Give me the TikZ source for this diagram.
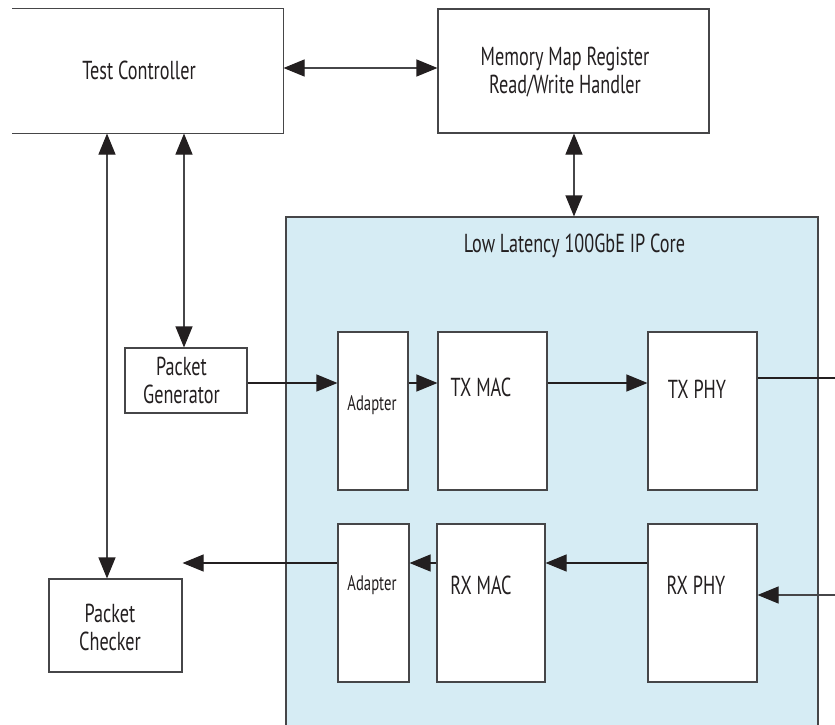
\documentclass[tikz,border=0pt]{standalone}
\usepackage{fontspec}
\setmainfont{PT Sans}[FakeStretch=0.70]
\usetikzlibrary{arrows.meta}
\definecolor{coreblue}{RGB}{214,236,244}
\definecolor{linegray}{RGB}{70,70,72}
\definecolor{tipblack}{RGB}{35,31,32}

\begin{document}
\begin{tikzpicture}[x=1pt, y=-1pt, line width=1.1pt, >={Triangle[length=21pt,width=17pt,color=tipblack]}]
		\useasboundingbox (0,0) rectangle (835,725);
		\clip (0,0) rectangle (835,725);
		\tikzstyle{block} = [draw=linegray, fill=white, inner sep=0pt]
		\tikzstyle{lbl} = [inner sep=0pt, font=\fontsize{26}{28}\selectfont, align=center, text=tipblack]
		\tikzstyle{small} = [inner sep=0pt, font=\fontsize{21}{24}\selectfont, text=tipblack]

		% outer blocks
		\node[inner sep=0pt, minimum width=270pt, minimum height=124pt] (ctrl) at (148,71) {};
		\draw[linegray] (ctrl.north west) -- (ctrl.north east) -- (ctrl.south east) -- (ctrl.south west);
		\node[lbl, anchor=base] at (139,80) {Test Controller};
		\node[block, minimum width=271pt, minimum height=124pt] (mmap) at (573.5,71) {};
		\node[lbl] at (565,72) {Memory Map Register\\Read/Write Handler};
		\node[block, fill=coreblue, minimum width=532pt, minimum height=543pt] (core) at (552,488.5) {};
		\node[lbl, anchor=base] (title) at (574.5,252) {Low Latency 100GbE IP Core};
		\node[block, minimum width=122pt, minimum height=65pt] (pgen) at (186,380.5) {};
		\node[lbl] at (181.5,380.5) {Packet\\Generator};
		\node[block, minimum width=133pt, minimum height=93pt] (pchk) at (115.5,625.5) {};
		\node[lbl] at (110,627) {Packet\\Checker};

		% core blocks
		\node[block, minimum width=70pt, minimum height=158pt] (adtx) at (373,411) {};
		\node[small, anchor=base] at (372,410) {Adapter};
		\node[block, minimum width=109pt, minimum height=158pt] (txmac) at (492.5,411) {};
		\node[lbl, anchor=base] at (481,396) {TX MAC};
		\node[block, minimum width=109pt, minimum height=158pt] (txphy) at (702.5,411) {};
		\node[lbl, anchor=base] at (697,398) {TX PHY};
		\node[block, minimum width=71pt, minimum height=158pt] (adrx) at (373.5,603) {};
		\node[small, anchor=base] at (372,590) {Adapter};
		\node[block, minimum width=108pt, minimum height=158pt] (rxmac) at (491,603) {};
		\node[lbl, anchor=base] at (481,594) {RX MAC};
		\node[block, minimum width=109pt, minimum height=158pt] (rxphy) at (702.5,603) {};
		\node[lbl, anchor=base] at (696,594) {RX PHY};

		\coordinate (txout) at (835,378);
		\coordinate (rxin) at (835,595);

		% connectors
		\draw[linegray, <->] ([yshift=3pt]ctrl.east) -- ([yshift=3pt]ctrl.east -| mmap.west);
		\draw[linegray, <->] ([xshift=0.5pt]mmap.south) -- ([xshift=0.5pt]mmap.south |- core.north);
		\draw[linegray, <->] ([xshift=-8.5pt]pchk.north |- ctrl.south) -- ([xshift=-8.5pt]pchk.north);
		\draw[linegray, <->] ([xshift=-2pt]pgen.north |- ctrl.south) -- ([xshift=-2pt]pgen.north);
		\draw[tipblack, ->] ([yshift=-2.5pt]pgen.east) -- ([yshift=-2.5pt]pgen.east -| adtx.west);
		\draw[tipblack, ->] ([yshift=-2.5pt]pgen.east -| adtx.east) -- ([yshift=-2.5pt]pgen.east -| txmac.west);
		\draw[tipblack, ->] ([yshift=-2.5pt]pgen.east -| txmac.east) -- ([yshift=-2.5pt]pgen.east -| txphy.west);
		\draw[tipblack] (txout -| txphy.east) -- (txout);
		\draw[linegray, ->] (rxin) -- (rxin -| rxphy.east);
		\draw[tipblack, ->] ([yshift=40pt]rxphy.west) -- ([yshift=40pt]rxphy.west -| rxmac.east);
		\draw[tipblack, ->] ([yshift=40pt]adrx.east -| rxmac.west) -- ([yshift=40pt]adrx.east);
		\draw[tipblack, ->] ([yshift=40pt]adrx.west) -- ([yshift=40pt]adrx.west -| pchk.east);
		\end{tikzpicture}
\end{document}
